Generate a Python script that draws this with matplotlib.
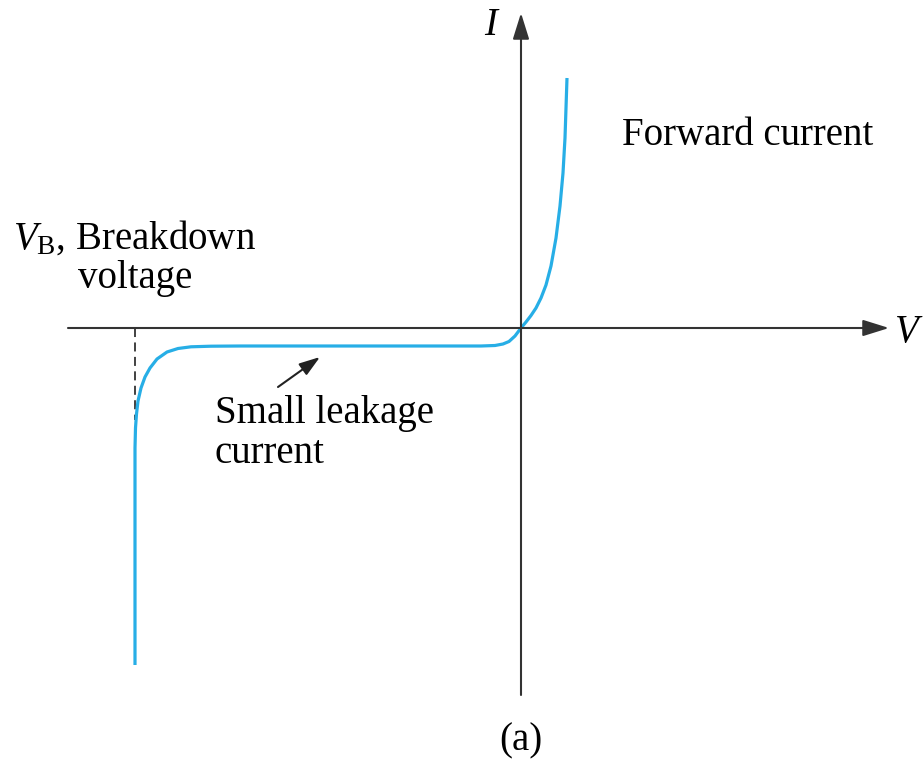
import matplotlib.pyplot as plt

plt.rcParams['font.family'] = ['Liberation Serif', 'DejaVu Serif']
plt.rcParams['mathtext.fontset'] = 'custom'
plt.rcParams['mathtext.rm'] = 'Liberation Serif'
plt.rcParams['mathtext.it'] = 'Liberation Serif:italic'

# diode I-V curve (arbitrary units)
voltage = [-38.6, -38.6, -38.6, -38.55, -38.45, -38.3, -38.0, -37.6, -37.1, -36.4,
           -35.4, -34.3, -33.0, -31.0, -28.0, -20.0, -10.0, -4.0, -2.6, -1.8,
           -1.2, -0.6, 0.0, 0.5, 1.0, 1.5, 2.0, 2.5, 3.0, 3.5, 3.9, 4.2, 4.4, 4.6]
current = [-33.7, -20.0, -12.0, -10.0, -8.6, -7.3, -6.0, -4.9, -4.0, -3.1,
           -2.4, -2.05, -1.88, -1.82, -1.8, -1.8, -1.8, -1.8, -1.75, -1.6,
           -1.35, -0.8, 0.0, 0.6, 1.25, 2.0, 3.0, 4.3, 6.2, 9.0, 12.2, 15.5, 19.0, 25.0]
breakdown_v = -38.6
breakdown_i = -9.2

axis_col = '#333333'
curve_col = '#27AEE6'

fig = plt.figure(figsize=(9.23, 7.6), dpi=100)
ax = fig.add_axes([0, 0, 1, 1])
ax.set_xlim(-52.1, 40.2)
ax.set_ylim(-43.2, 32.8)
ax.axis('off')

# axes with arrows
ax.annotate('', xy=(36.8, 0), xytext=(-45.3, 0),
            arrowprops=dict(arrowstyle='-|>,head_length=0.8,head_width=0.25',
                            color=axis_col, lw=1.5, mutation_scale=20,
                            shrinkA=0, shrinkB=0))
ax.annotate('', xy=(0, 31.5), xytext=(0, -36.7),
            arrowprops=dict(arrowstyle='-|>,head_length=0.8,head_width=0.25',
                            color=axis_col, lw=1.5, mutation_scale=20,
                            shrinkA=0, shrinkB=0))

# breakdown marker
ax.plot([breakdown_v, breakdown_v], [0, breakdown_i], color=axis_col,
        lw=1.3, ls=(0, (5, 3)))

ax.plot(voltage, current, color=curve_col, lw=2.3, solid_capstyle='butt',
        solid_joinstyle='round')

fs = 28
ax.text(-2.4, 29.3, 'I', fontsize=fs, style='italic', ha='right', va='baseline')
ax.text(37.4, -1.4, 'V', fontsize=fs, style='italic', ha='left', va='baseline')
ax.text(10.1, 18.3, 'Forward current', fontsize=fs, va='baseline')
ax.text(-50.8, 7.9, r'$V_{\mathrm{B}}$, Breakdown', fontsize=fs, va='baseline')
ax.text(-44.3, 4.0, 'voltage', fontsize=fs, va='baseline')
ax.text(-30.6, -9.5, 'Small leakage', fontsize=fs, va='baseline')
ax.text(-30.6, -13.5, 'current', fontsize=fs, va='baseline')
ax.annotate('', xy=(-20.1, -2.9), xytext=(-24.3, -5.9),
            arrowprops=dict(arrowstyle='-|>,head_length=0.9,head_width=0.3',
                            color='#222222', lw=1.5, mutation_scale=14,
                            shrinkA=0, shrinkB=0))
ax.text(0.0, -42.2, '(a)', fontsize=fs, ha='center', va='baseline')

fig.savefig('out.png', dpi=100)
